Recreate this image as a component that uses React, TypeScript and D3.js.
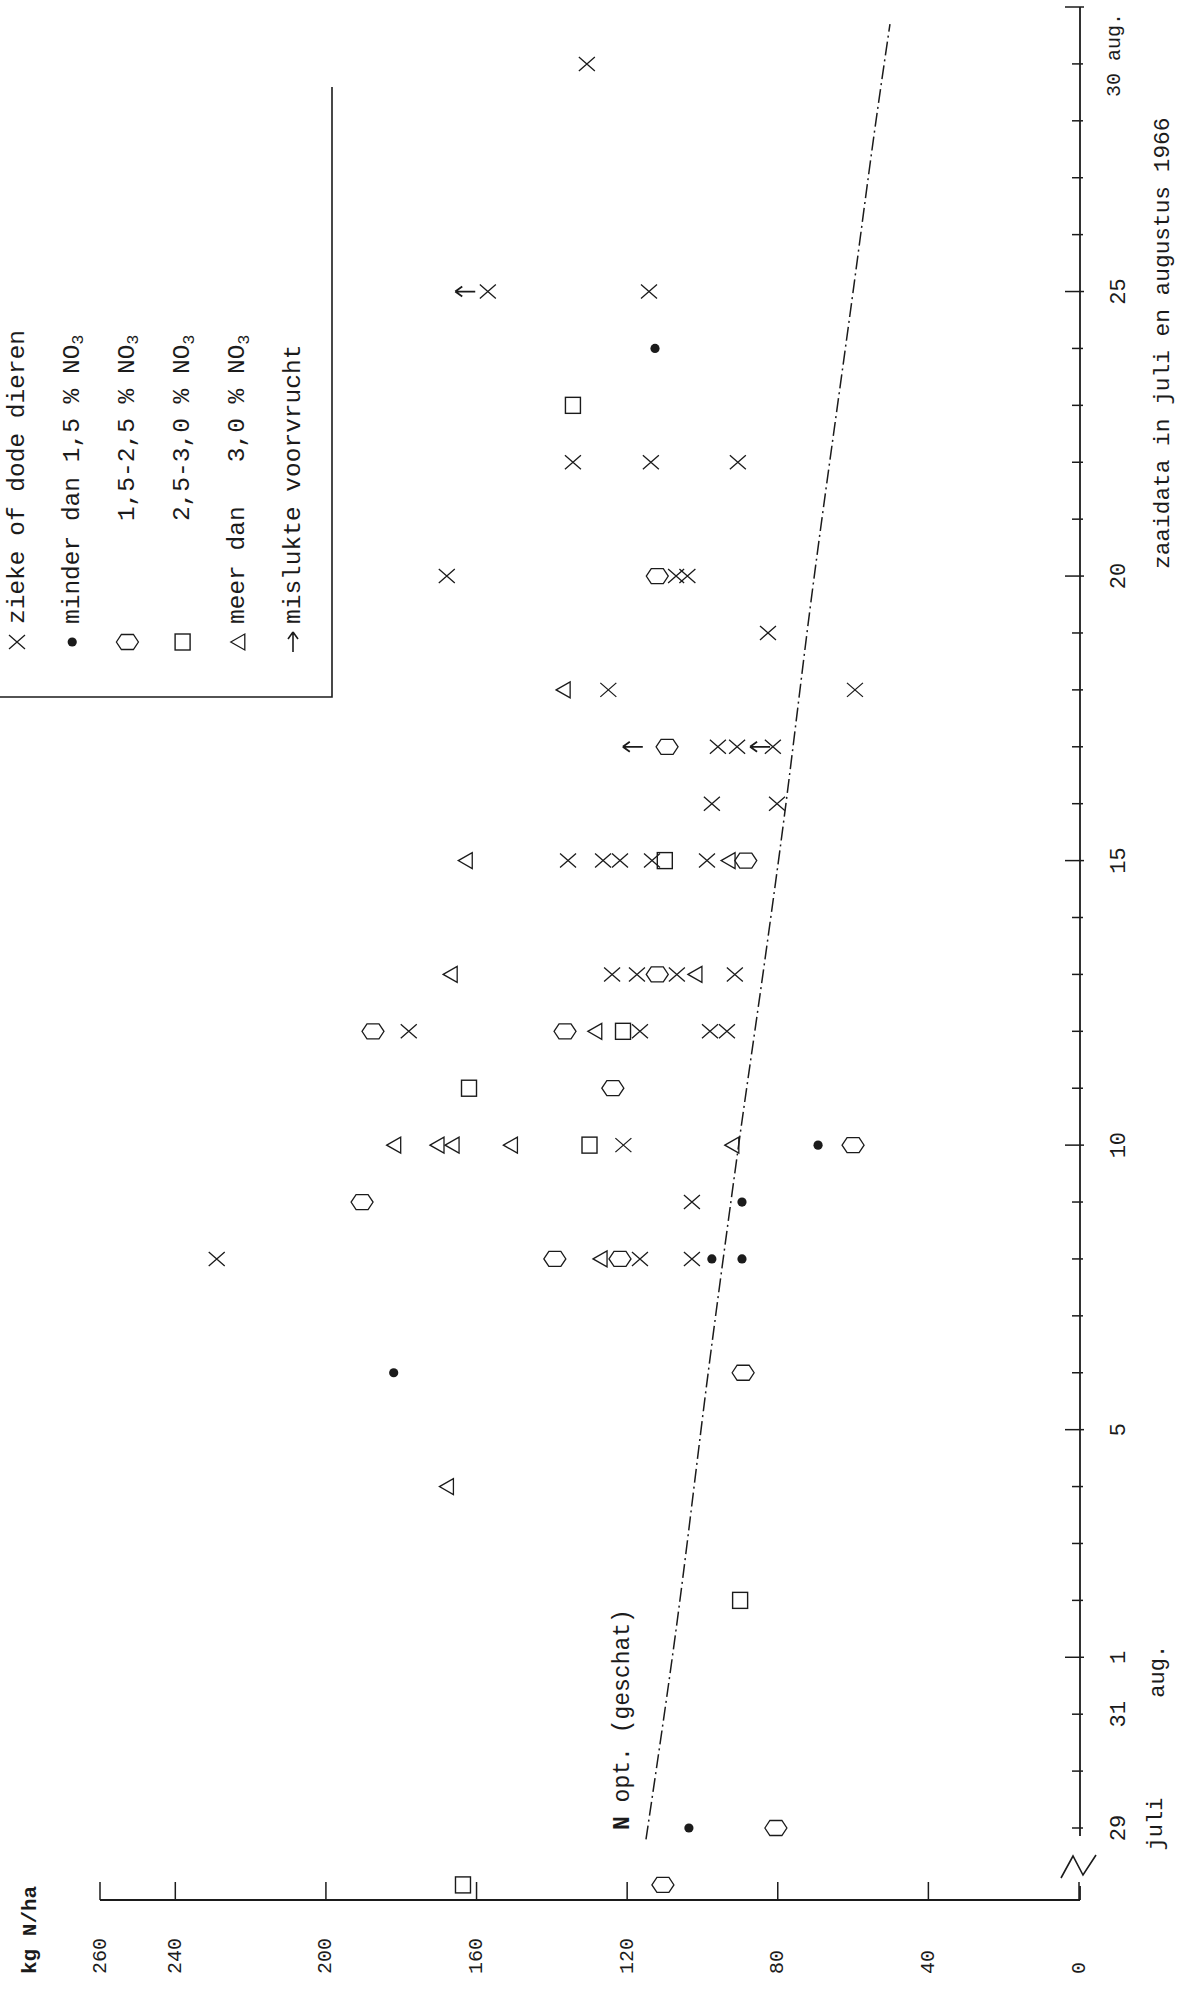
import React from 'react';
import * as d3 from 'd3';

const W = 1181;
const H = 1999;

// day = day of August (31 juli = 0, 29 juli = -2, 28 juli = -3); kg = kg N/ha
const crosses = [
  { day: 8, kg: 229 }, { day: 8, kg: 116.6 }, { day: 8, kg: 102.8 },
  { day: 9, kg: 102.8 },
  { day: 10, kg: 121 },
  { day: 12, kg: 178 }, { day: 12, kg: 116.6 }, { day: 12, kg: 98 }, { day: 12, kg: 93.5 },
  { day: 13, kg: 124 }, { day: 13, kg: 117.4 }, { day: 13, kg: 106.8 }, { day: 13, kg: 91.4 },
  { day: 15, kg: 135.7 }, { day: 15, kg: 126.4 }, { day: 15, kg: 121.9 }, { day: 15, kg: 113.4 }, { day: 15, kg: 98.8 },
  { day: 16, kg: 97.5 }, { day: 16, kg: 80.2 },
  { day: 17, kg: 95.9 }, { day: 17, kg: 90.8 }, { day: 17, kg: 81.3 },
  { day: 18, kg: 125 }, { day: 18, kg: 59.5 },
  { day: 19, kg: 82.6 },
  { day: 20, kg: 167.9 }, { day: 20, kg: 107 }, { day: 20, kg: 104 },
  { day: 22, kg: 134.4 }, { day: 22, kg: 113.7 }, { day: 22, kg: 90.6 },
  { day: 25, kg: 157 }, { day: 25, kg: 114.2 },
  { day: 29, kg: 130.7 },
];

const dots = [
  { day: -2, kg: 103.6 }, { day: 6, kg: 182 }, { day: 8, kg: 97.5 }, { day: 8, kg: 89.5 },
  { day: 9, kg: 89.5 }, { day: 10, kg: 69.3 }, { day: 24, kg: 112.6 },
];

const diamonds = [
  { day: -3, kg: 110.5 }, { day: -2, kg: 80.5 }, { day: 6, kg: 89.2 }, { day: 8, kg: 139.2 },
  { day: 8, kg: 121.9 }, { day: 9, kg: 190.4 }, { day: 10, kg: 60 }, { day: 11, kg: 123.8 },
  { day: 12, kg: 187.5 }, { day: 12, kg: 136.5 }, { day: 13, kg: 112 }, { day: 15, kg: 88.5 },
  { day: 17, kg: 109.4 }, { day: 20, kg: 112 },
];

const squares = [
  { day: -3, kg: 163.6 }, { day: 2, kg: 90 }, { day: 10, kg: 130 }, { day: 11, kg: 162 },
  { day: 12, kg: 121.1 }, { day: 15, kg: 110 }, { day: 23, kg: 134.4 },
];

const triangles = [
  { day: 4, kg: 168 }, { day: 8, kg: 127.2 }, { day: 10, kg: 182 }, { day: 10, kg: 170.5 },
  { day: 10, kg: 166.5 }, { day: 10, kg: 151 }, { day: 10, kg: 92.2 }, { day: 12, kg: 128.6 },
  { day: 13, kg: 167 }, { day: 13, kg: 102 }, { day: 15, kg: 163 }, { day: 15, kg: 93.2 },
  { day: 18, kg: 137 },
];

const arrows = [
  { day: 17, kg: 118.5 }, { day: 17, kg: 84.7 }, { day: 25, kg: 163 },
];

// estimated optimum N line
const nOptDays = [-2.2, 1.1, 6.4, 9.9, 13.5, 15.2, 19.8, 24.85, 28.1, 29.7];
const nOptKg = [115, 107.8, 97.7, 90.6, 82.9, 79.4, 70.7, 60.3, 53.7, 50.2];

const kgTicks = [0, 40, 80, 120, 160, 200, 240, 260];
const dayTicks = d3.range(-2, 31);
const majorDays = [1, 5, 10, 15, 20, 25, 30];
const dayLabels = [
  { day: -2, label: '29' }, { day: 0, label: '31' }, { day: 1, label: '1' },
  { day: 5, label: '5' }, { day: 10, label: '10' }, { day: 15, label: '15' },
  { day: 20, label: '20' }, { day: 25, label: '25' },
];

const legendItems = [
  { sym: 'cross', text: 'zieke of dode dieren' },
  { sym: 'dot', text: 'minder dan 1,5 % NO', sub: '3' },
  { sym: 'diamond', text: '       1,5-2,5 % NO', sub: '3' },
  { sym: 'square', text: '       2,5-3,0 % NO', sub: '3' },
  { sym: 'triangle', text: 'meer dan   3,0 % NO', sub: '3' },
  { sym: 'uparrow', text: 'mislukte voorvrucht' },
];

const ink = '#1b1b1b';
const FONT = '"Liberation Mono", "DejaVu Sans Mono", monospace';

function Marker({ type, cx, cy }: { type: string; cx: number; cy: number }) {
  const t = `translate(${cx},${cy})`;
  switch (type) {
    case 'cross':
      return <path transform={t} d="M-8,-7L8,7M-8,7L8,-7" stroke={ink} strokeWidth={1.3} fill="none" />;
    case 'dot':
      return <circle cx={cx} cy={cy} r={4.6} fill={ink} />;
    case 'diamond':
      return <path transform={t} d="M-11,0L-6,-7.5L6,-7.5L11,0L6,7.5L-6,7.5Z" stroke={ink} strokeWidth={1.3} fill="none" />;
    case 'square':
      return <rect x={cx - 7.5} y={cy - 8} width={15} height={16} stroke={ink} strokeWidth={1.4} fill="none" />;
    case 'triangle':
      return <path transform={t} d="M-7,0L7,-8L7,8Z" stroke={ink} strokeWidth={1.3} fill="none" />;
    case 'arrow':
      return <path transform={t} d="M10,0L-10,0M-10,0L-3,-5M-10,0L-3,5" stroke={ink} strokeWidth={1.8} fill="none" />;
    case 'uparrow':
      return <path transform={t} d="M0,10L0,-10M0,-10L-5,-3M0,-10L5,-3" stroke={ink} strokeWidth={1.6} fill="none" />;
    default:
      return null;
  }
}

export default function App() {
  const x = d3.scaleLinear().domain([0, 260]).range([1079, 100]);
  const y = d3.scaleLinear().domain([-2, 30]).range([1828, 7]);
  const axisX = x(0) + 1;
  const axisY = 1900;

  const nOptData = nOptDays.map((d, i) => ({ day: d, kg: nOptKg[i] }));
  const line = d3.line<{ day: number; kg: number }>().x((d) => x(d.kg)).y((d) => y(d.day)).curve(d3.curveMonotoneY);

  const rot = (cx: number, cy: number) => `translate(${cx},${cy}) rotate(-90)`;

  const series: [string, { day: number; kg: number }[]][] = [
    ['cross', crosses], ['dot', dots], ['diamond', diamonds], ['square', squares],
    ['triangle', triangles], ['arrow', arrows],
  ];

  return (
    <svg width={W} height={H} style={{ position: 'absolute', left: 0, top: 0, background: '#fff' }} fontFamily={FONT}>
      <rect x={0} y={0} width={W} height={H} fill="#fff" />

      {/* legend box */}
      <path d="M332,87L332,697L0,697" stroke={ink} strokeWidth={1.6} fill="none" />
      {legendItems.map((it, i) => {
        const cx = 17 + i * 55.2;
        return (
          <g key={i}>
            <Marker type={it.sym} cx={cx} cy={642} />
            <text transform={rot(cx, 624)} fontSize={24.5} fill={ink} dominantBaseline="central" style={{ whiteSpace: 'pre' }}>
              {it.text}
              {it.sub ? <tspan fontSize={17} dy={6}>{it.sub}</tspan> : null}
            </text>
          </g>
        );
      })}

      {/* value axis */}
      <line x1={x(260)} x2={axisX} y1={axisY} y2={axisY} stroke={ink} strokeWidth={2} />
      {kgTicks.map((v) => (
        <g key={v}>
          <line x1={x(v)} x2={x(v)} y1={axisY} y2={axisY - 18} stroke={ink} strokeWidth={1.5} />
          <text transform={rot(x(v), 1974)} fontSize={20} fill={ink} dominantBaseline="central">{v}</text>
        </g>
      ))}
      <text transform={rot(30, 1974)} fontSize={21} fill={ink} dominantBaseline="central" fontWeight="bold">kg N/ha</text>

      {/* date axis with break */}
      <line x1={axisX} x2={axisX} y1={y(30)} y2={y(-2) + 8} stroke={ink} strokeWidth={1.8} />
      <path d={`M${axisX - 19},1878L${axisX - 7},1856L${axisX + 3},1875L${axisX + 16},1855`} stroke={ink} strokeWidth={1.6} fill="none" />
      <line x1={axisX} x2={axisX} y1={1886} y2={axisY} stroke={ink} strokeWidth={1.8} />
      {dayTicks.map((d) => {
        const major = majorDays.includes(d);
        return (
          <line key={d} x1={axisX - (major ? 15 : 8)} x2={axisX + (major ? 4 : 3)} y1={y(d)} y2={y(d)} stroke={ink} strokeWidth={1.5} />
        );
      })}
      {dayLabels.map((l) => (
        <text key={l.day} transform={rot(1119, y(l.day))} fontSize={22} fill={ink} textAnchor="middle" dominantBaseline="central">{l.label}</text>
      ))}
      <text transform={rot(1156, y(-2) - 4)} fontSize={22} fill={ink} textAnchor="middle" dominantBaseline="central">juli</text>
      <text transform={rot(1158, y(1) + 14)} fontSize={22} fill={ink} textAnchor="middle" dominantBaseline="central">aug.</text>
      <text transform={rot(1114, y(30) + 90)} fontSize={20} fill={ink} dominantBaseline="central">30 aug.</text>
      <text transform={rot(1163, 569)} fontSize={22.8} fill={ink} dominantBaseline="central">zaaidata in juli en augustus 1966</text>

      {/* N opt line */}
      <path d={line(nOptData) || ''} stroke={ink} strokeWidth={1.5} fill="none" strokeDasharray="14 4 2 4" />
      <text transform={rot(623, 1830)} fontSize={23} fill={ink} dominantBaseline="central">
        <tspan fontWeight="bold">N</tspan> opt. (geschat)
      </text>

      {/* data marks */}
      {series.map(([type, data]) =>
        data.map((d, i) => <Marker key={type + i} type={type} cx={x(d.kg)} cy={y(d.day)} />)
      )}
    </svg>
  );
}
